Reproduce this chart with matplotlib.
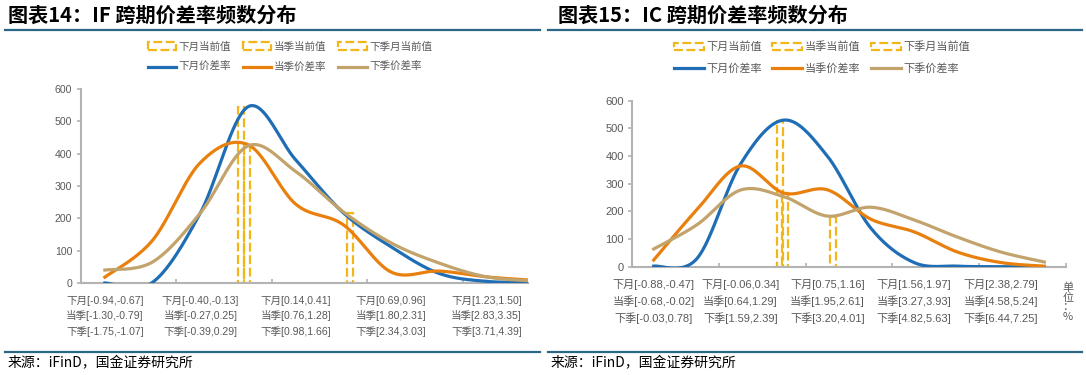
import numpy as np
import matplotlib
matplotlib.use("Agg")
import matplotlib.pyplot as plt
from matplotlib.lines import Line2D

plt.rcParams['font.family'] = ['Liberation Sans', 'Noto Sans CJK SC', 'DejaVu Sans']

# ---- data ----
if_labels = ["下月[-0.94,-0.67]\n当季[-1.30,-0.79]\n下季[-1.75,-1.07]",
             "下月[-0.40,-0.13]\n当季[-0.27,0.25]\n下季[-0.39,0.29]",
             "下月[0.14,0.41]\n当季[0.76,1.28]\n下季[0.98,1.66]",
             "下月[0.69,0.96]\n当季[1.80,2.31]\n下季[2.34,3.03]",
             "下月[1.23,1.50]\n当季[2.83,3.35]\n下季[3.71,4.39]"]
if_next_month = [0, 2, 216, 545, 381, 217, 112, 30, 5, 3]
if_this_q = [18, 132, 372, 428, 244, 180, 34, 37, 19, 8]
if_next_q = [40, 65, 216, 424, 345, 220, 124, 62, 19, 6]
if_cur_pos = [2.85, 2.98, 5.13]
if_cur_val = [545, 425, 217]

ic_labels = ["下月[-0.88,-0.47]\n当季[-0.68,-0.02]\n下季[-0.03,0.78]",
             "下月[-0.06,0.34]\n当季[0.64,1.29]\n下季[1.59,2.39]",
             "下月[0.75,1.16]\n当季[1.95,2.61]\n下季[3.20,4.01]",
             "下月[1.56,1.97]\n当季[3.27,3.93]\n下季[4.82,5.63]",
             "下月[2.38,2.79]\n当季[4.58,5.24]\n下季[6.44,7.25]"]
ic_next_month = [2, 30, 371, 530, 400, 140, 15, 2, 0, 0]
ic_this_q = [24, 207, 364, 266, 278, 172, 126, 53, 15, 2]
ic_next_q = [64, 152, 277, 253, 183, 215, 169, 107, 53, 17]
ic_cur_pos = [2.90, 3.03, 4.13]
ic_cur_val = [525, 265, 180]

bar_names = ["下月当前值", "当季当前值", "下季月当前值"]
line_names = ["下月价差率", "当季价差率", "下季价差率"]

BLUE = "#1f6eb5"
ORANGE = "#e9800e"
TAN = "#c2a36c"
YEL = "#f2b619"
GREY = "#595959"
AX = "#b3b3b3"
TEAL = "#2a6685"


def smooth(y, n=40):
    # excel-like smoothed line (catmull-rom bezier)
    x = np.arange(len(y), dtype=float)
    p = np.column_stack([x, np.asarray(y, float)])
    p = np.vstack([p[0], p, p[-1]])
    out = []
    t = np.linspace(0, 1, n)[:, None]
    for k in range(len(y) - 1):
        p0, p3 = p[k + 1], p[k + 2]
        c1 = p0 + (p[k + 2] - p[k]) / 6
        c2 = p3 - (p[k + 3] - p[k + 1]) / 6
        seg = (1 - t) ** 3 * p0 + 3 * (1 - t) ** 2 * t * c1 + 3 * (1 - t) * t ** 2 * c2 + t ** 3 * p3
        out.append(seg)
    out = np.vstack(out)
    return out[:, 0], out[:, 1]


fig = plt.figure(figsize=(10.86, 3.75), dpi=100)


def panel(rect, title, tx, series, cur_pos, cur_val, labels, xlim, minor, bw, fs, leg_xy, colsp):
    ax = fig.add_axes(rect)
    for i in range(3):
        ax.bar(cur_pos[i], cur_val[i], width=bw, fill=False, edgecolor=YEL,
               linestyle=(0, (4, 1.6)), linewidth=1.6, label=bar_names[i], zorder=2)
    for vals, c, nm in zip(series, [BLUE, ORANGE, TAN], line_names):
        xs, ys = smooth(vals)
        ax.plot(xs, ys, color=c, lw=2.3, label=nm, zorder=3)
    ax.set_xlim(*xlim)
    ax.set_ylim(0, 600)
    ax.set_yticks(range(0, 601, 100))
    ax.set_xticks([0, 2, 4, 6, 8])
    ax.set_xticklabels(labels, linespacing=1.55)
    ax.set_xticks(minor, minor=True)
    ax.tick_params(axis='x', which='major', length=0, labelsize=fs, labelcolor=GREY, pad=9)
    ax.tick_params(axis='x', which='minor', length=3, direction='in', color=AX, width=1.2)
    ax.tick_params(axis='y', length=3, color=AX, width=1.2, labelsize=fs, labelcolor=GREY, pad=3)
    for s in ['top', 'right']:
        ax.spines[s].set_visible(False)
    for s in ['left', 'bottom']:
        ax.spines[s].set_color(AX)
        ax.spines[s].set_linewidth(1.5)
    h, l = ax.get_legend_handles_labels()
    # handles come back as lines then bars; bars go on the first row
    order = [3, 0, 4, 1, 5, 2]
    fig.legend([h[k] for k in order], [l[k] for k in order], ncol=3, loc='center',
               bbox_to_anchor=leg_xy, frameon=False, fontsize=fs,
               labelcolor=GREY, handlelength=2.7, handletextpad=0.25,
               columnspacing=colsp, labelspacing=1.0)
    fig.text(tx / 1086, 1 - 15 / 375, title, fontsize=14.5, fontweight='bold',
             family=['Noto Sans CJK SC'], va='center', ha='left', color='black')
    return ax


ax1 = panel([80.5 / 1086, 92 / 375, 447.5 / 1086, 194 / 375], "图表14：IF 跨期价差率频数分布", 8,
            [if_next_month, if_this_q, if_next_q], if_cur_pos, if_cur_val, if_labels,
            (-0.51, 8.87), [1.5, 3.5, 5.5, 7.5], 0.126, 7.6, (290 / 1086, 1 - 57 / 375), 1.1)
ax2 = panel([632 / 1086, 108.3 / 375, 434 / 1086, 166 / 375], "图表15：IC 跨期价差率频数分布", 558,
            [ic_next_month, ic_this_q, ic_next_q], ic_cur_pos, ic_cur_val, ic_labels,
            (-0.5, 9.5), [1.5, 3.5, 5.5, 7.5, 9.5], 0.138, 8.0, (822 / 1086, 1 - 58 / 375), 0.9)

fig.text(1068 / 1086, 1 - 302 / 375, "单\n位\n：\n%", fontsize=8, color=GREY, ha='center', va='center',
         linespacing=0.95, family=['Noto Sans CJK SC'])

# header / footer rules
for x0, x1 in [(5, 540), (548, 1082)]:
    fig.add_artist(Line2D([x0 / 1086, x1 / 1086], [1 - 30 / 375] * 2, color=TEAL, lw=1.6))
    fig.add_artist(Line2D([x0 / 1086, x1 / 1086], [1 - 352 / 375] * 2, color=TEAL, lw=1.6))
    fig.text((x0 + 3) / 1086, 1 - 363 / 375, "来源：iFinD，国金证券研究所", fontsize=10,
             family=['Noto Sans CJK SC'], va='center', ha='left', color='black')

fig.savefig("out.png", dpi=100)
